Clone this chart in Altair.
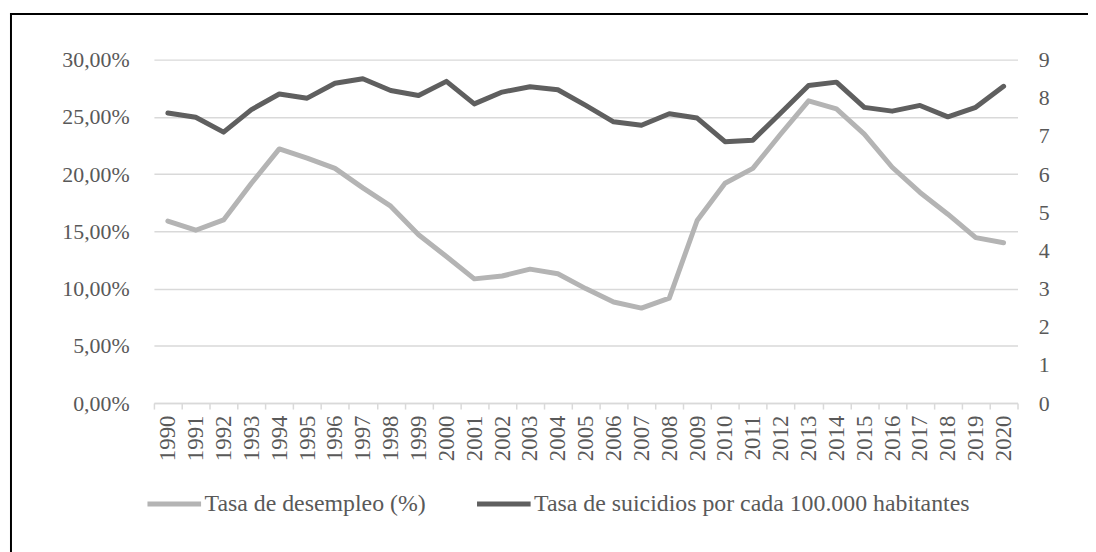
import altair as alt
import pandas as pd

years = [str(y) for y in range(1990, 2021)]
desempleo = [15.9, 15.1, 16.0, 19.2, 22.2, 21.4, 20.5, 18.8, 17.2, 14.7,
             12.8, 10.85, 11.1, 11.7, 11.3, 10.0, 8.83, 8.3, 9.17, 15.95,
             19.2, 20.5, 23.5, 26.4, 25.7, 23.5, 20.6, 18.4, 16.5, 14.45, 14.0]
suicidios = [7.60, 7.49, 7.10, 7.69, 8.10, 7.99, 8.38, 8.50, 8.19, 8.06,
             8.43, 7.84, 8.15, 8.29, 8.21, 7.80, 7.37, 7.28, 7.58, 7.47,
             6.85, 6.89, 7.60, 8.32, 8.41, 7.75, 7.65, 7.80, 7.50, 7.75, 8.30]
series = ["Tasa de desempleo (%)", "Tasa de suicidios por cada 100.000 habitantes"]
colors = ["#b4b4b4", "#5f5f5f"]
left_ticks = [0, 5, 10, 15, 20, 25, 30]
right_ticks = [0, 1, 2, 3, 4, 5, 6, 7, 8, 9]

df = pd.DataFrame({
    "year": years * 2,
    "serie": [series[0]] * len(years) + [series[1]] * len(years),
    "valor": desempleo + suicidios,
})

FONT = "Liberation Serif"
TXT = "#595959"
GRID = "#d9d9d9"

x = alt.X(
    "year:O", title=None, sort=None, bandPosition=0.5,
    scale=alt.Scale(type="band", paddingInner=0, paddingOuter=0),
    axis=alt.Axis(labelAngle=-90, tickBand="extent", domainColor=GRID, domainWidth=1.5,
                  tickColor=GRID, tickWidth=1.5, tickSize=6, labelPadding=6,
                  labelFontSize=23, labelFont=FONT, labelColor=TXT, grid=False),
)

color = alt.Color(
    "serie:N", sort=series,
    scale=alt.Scale(domain=series, range=colors),
    legend=alt.Legend(title=None, orient="none", legendX=-9, legendY=418,
                      direction="horizontal", symbolType="stroke", symbolSize=2916,
                      symbolStrokeWidth=5, labelFont=FONT, labelFontSize=24,
                      labelColor=TXT, columnPadding=41, labelOffset=1, padding=0,
                      labelLimit=700),
)

base = alt.Chart(df)

l1 = base.transform_filter(alt.datum.serie == series[0]).mark_line(
    strokeWidth=5, strokeCap="round", strokeJoin="round"
).encode(
    x=x,
    y=alt.Y("valor:Q", title=None,
            scale=alt.Scale(domain=[0, 30], nice=False, zero=True),
            axis=alt.Axis(orient="left", values=left_ticks,
                          labelExpr="replace(format(datum.value, '.2f'), '.', ',') + '%'",
                          grid=True, gridColor=GRID, gridWidth=1.5, domain=False,
                          ticks=False, tickSize=0, labelPadding=25, labelFontSize=22,
                          labelFont=FONT, labelColor=TXT)),
    color=color,
)

l2 = base.transform_filter(alt.datum.serie == series[1]).mark_line(
    strokeWidth=5, strokeCap="round", strokeJoin="round"
).encode(
    x=x,
    y=alt.Y("valor:Q", title=None,
            scale=alt.Scale(domain=[0, 9], nice=False, zero=True),
            axis=alt.Axis(orient="right", values=right_ticks, format="d",
                          grid=False, domain=False, ticks=False, tickSize=0,
                          labelPadding=21, labelFontSize=22, labelFont=FONT,
                          labelColor=TXT)),
    color=color,
)

one = pd.DataFrame({"a": [0]})
frame_top = alt.Chart(one).mark_rule(stroke="black", strokeWidth=2, strokeCap="butt").encode(
    x=alt.value(-145), x2=alt.value(945), y=alt.value(-46), y2=alt.value(-46))
frame_left = alt.Chart(one).mark_rule(stroke="black", strokeWidth=2, strokeCap="butt").encode(
    x=alt.value(-144), x2=alt.value(-144), y=alt.value(-47), y2=alt.value(500))

chart = alt.layer(frame_top, frame_left, l1, l2).resolve_scale(y="independent").properties(
    width=870, height=346,
    padding={"left": 147, "top": 50, "right": 71, "bottom": 148},
    autosize=alt.AutoSizeParams(type="none"),
).configure(font=FONT).configure_view(stroke=None)

chart.save("out.html", embed_options={"renderer": "svg", "actions": False})
